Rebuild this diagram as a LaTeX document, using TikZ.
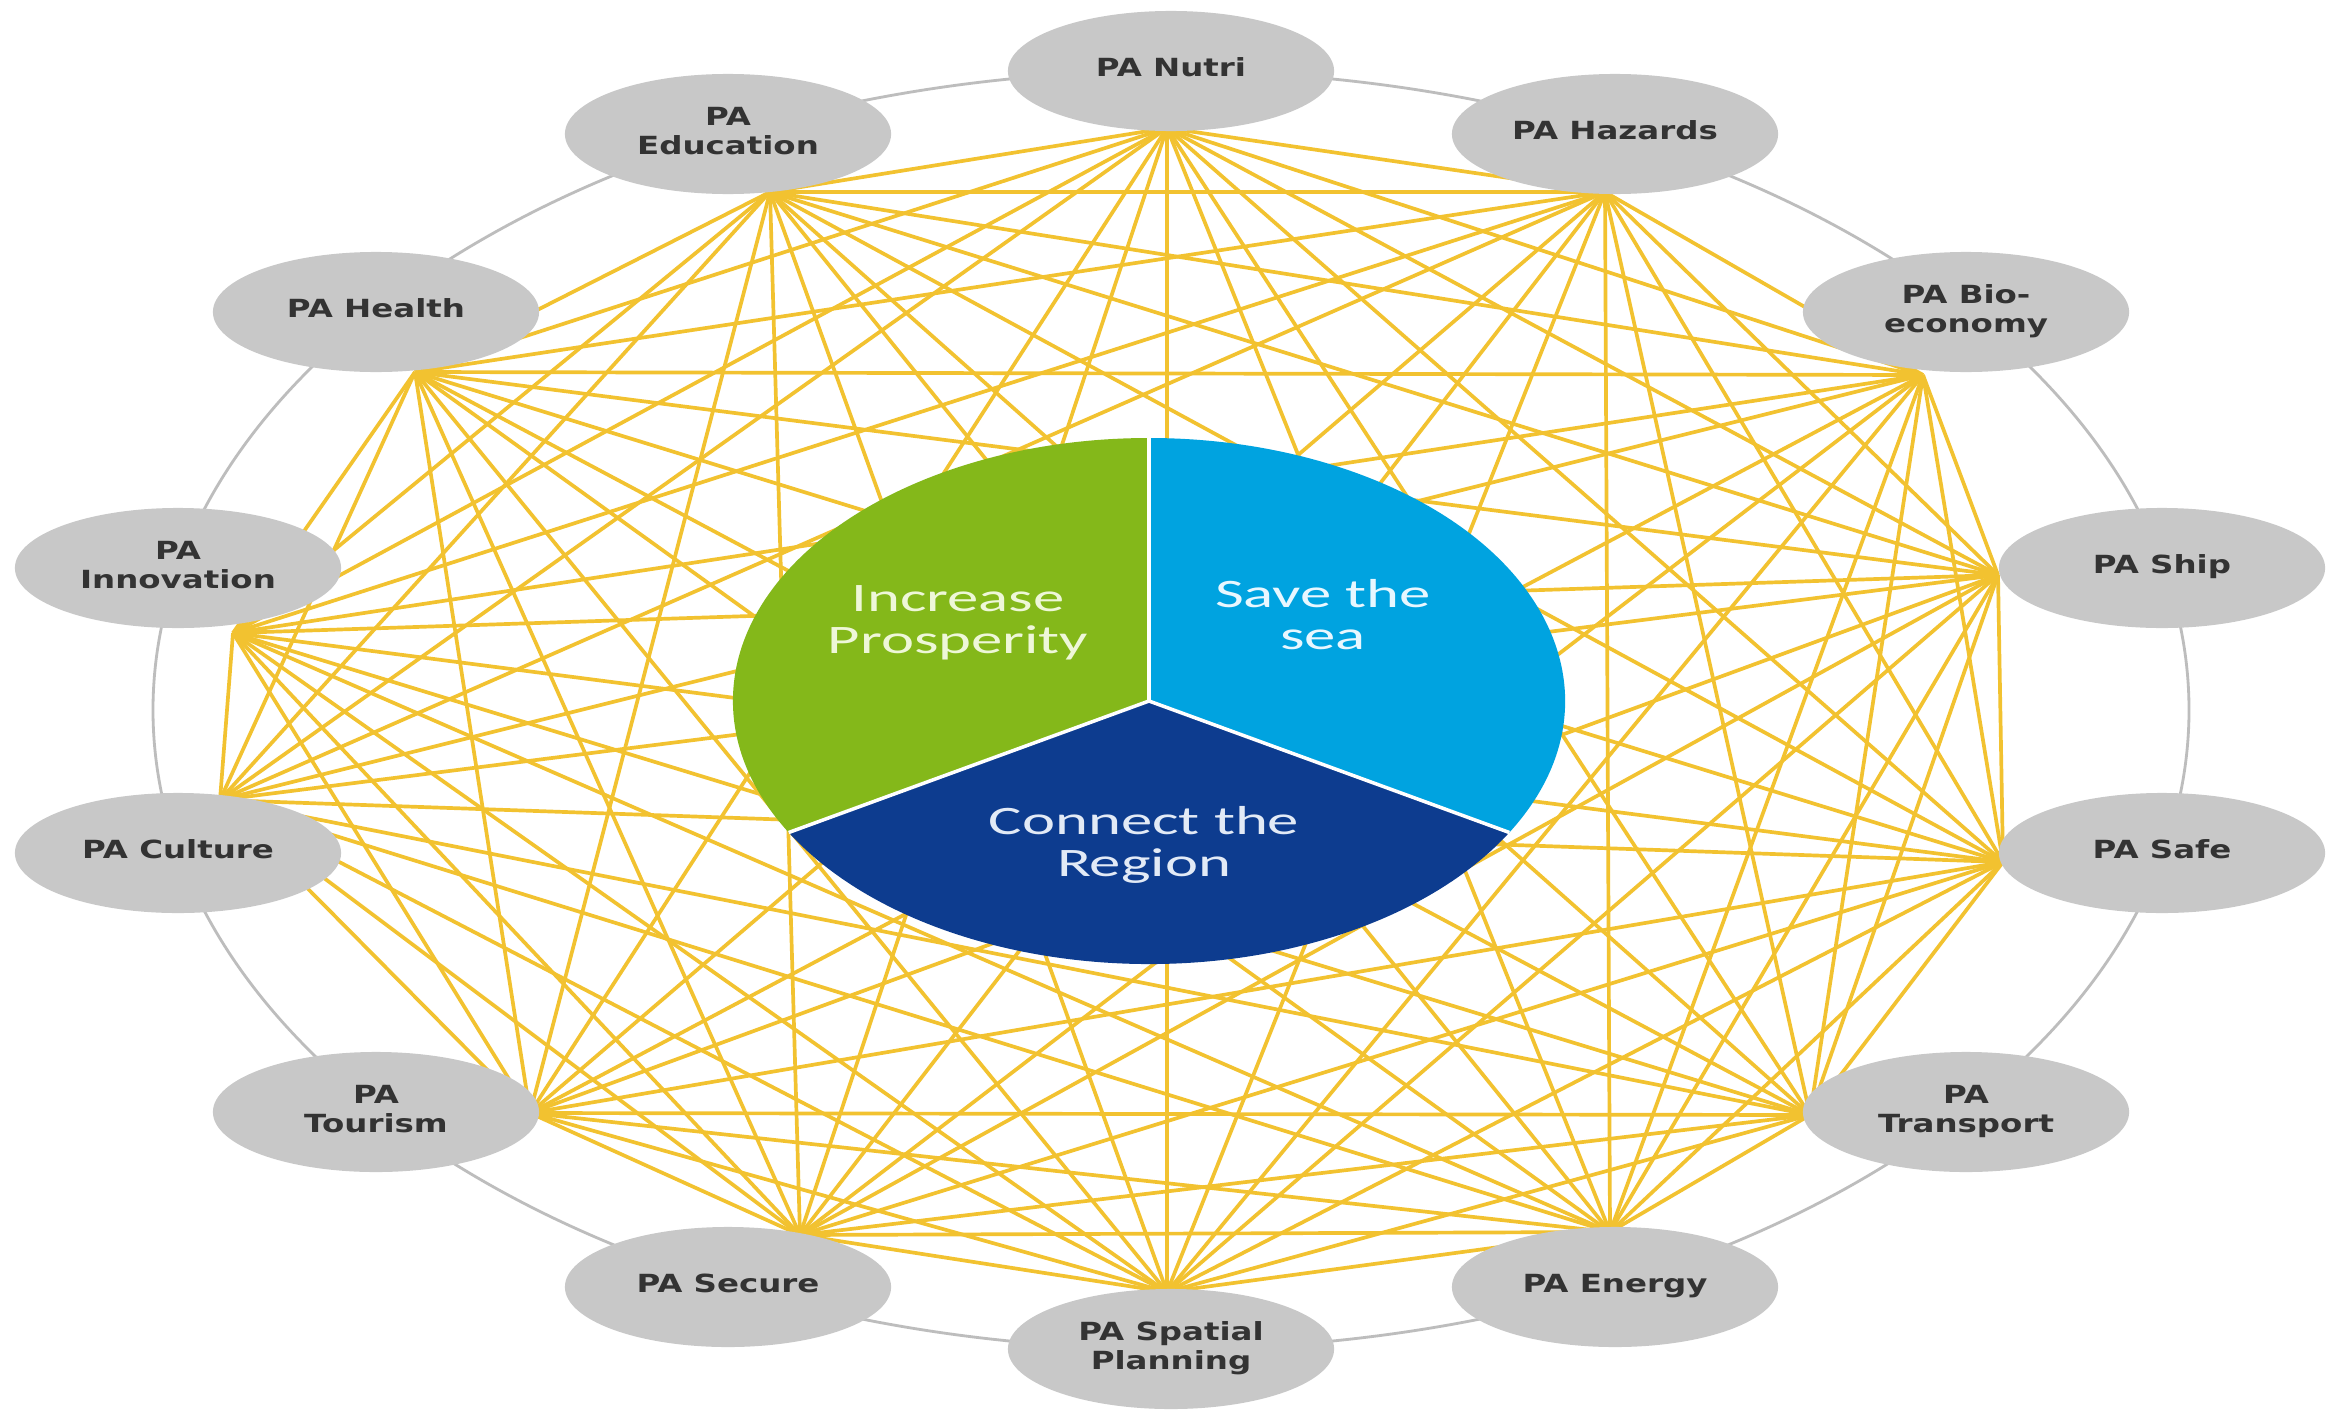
\documentclass[tikz,border=0pt]{standalone}
\usepackage{fontspec}
\setmainfont{DejaVu Sans}
\newfontfamily\carl{Carlito}
\usetikzlibrary{shapes.geometric}
\definecolor{paGray}{HTML}{C8C8C8}
\definecolor{lineGold}{HTML}{F2C230}
\definecolor{ringGray}{HTML}{BDBDBD}
\definecolor{pieGreen}{HTML}{84B81A}
\definecolor{pieLight}{HTML}{00A3E0}
\definecolor{pieDark}{HTML}{0D3C8F}
\definecolor{txtDark}{HTML}{333333}
\definecolor{txtGreen}{HTML}{EEF7D8}
\definecolor{txtLight}{HTML}{E8F7FF}
\definecolor{txtDarkB}{HTML}{E2EAF6}
\newcommand\patext[1]{\scalebox{1.3}[1]{\begin{tabular}{@{}c@{}}#1\end{tabular}}}
\newcommand\pietext[1]{\scalebox{1.55}[1]{\begin{tabular}{@{}c@{}}#1\end{tabular}}}
\begin{document}
\begin{tikzpicture}[x=0.01cm,y=-0.01cm,
  pa/.style={ellipse, fill=paGray, minimum width=3.26cm, minimum height=1.2cm, inner sep=0pt,
    text=txtDark, font=\fontsize{7.1pt}{8.5pt}\selectfont\bfseries},
  link/.style={draw=lineGold, line width=1.05pt},
  ring/.style={draw=ringGray, line width=0.8pt},
  sector/.style={draw=white, line width=1pt},
  pielabel/.style={font=\carl\fontsize{11.5pt}{11.9pt}\selectfont, inner sep=0pt}]
\fill[white] (0,0) rectangle (2330,1412);
\useasboundingbox (0,0) rectangle (2330,1412);
% ring
\draw[ring] (1171,710) ellipse [x radius=1018, y radius=639];
% hubs
\coordinate (h1) at (1167,128);
\coordinate (h2) at (1605,192);
\coordinate (h3) at (1923,375);
\coordinate (h4) at (1998,575);
\coordinate (h5) at (2003,862);
\coordinate (h6) at (1810,1115);
\coordinate (h7) at (1610,1232);
\coordinate (h8) at (1167,1292);
\coordinate (h9) at (800,1235);
\coordinate (h10) at (530,1113);
\coordinate (h11) at (220,800);
\coordinate (h12) at (233,633);
\coordinate (h13) at (415,372);
\coordinate (h14) at (770,192);
% links (complete graph)
\foreach \i in {1,...,13}{
  \pgfmathtruncatemacro\k{\i+1}
  \foreach \j in {\k,...,14}{
    \draw[link] (h\i) -- (h\j);
  }
}
% pie
\begin{scope}[shift={(1149,701)}, xscale=1.582, yscale=-1]
  \fill[pieGreen] (0,0) -- (90:263) arc[start angle=90, end angle=210, radius=263] -- cycle;
  \fill[pieDark] (0,0) -- (210:263) arc[start angle=210, end angle=330, radius=263] -- cycle;
  \fill[pieLight] (0,0) -- (330:263) arc[start angle=330, end angle=450, radius=263] -- cycle;
  \draw[sector] (0,0) -- (90:263);
  \draw[sector] (0,0) -- (210:263);
  \draw[sector] (0,0) -- (330:263);
\end{scope}
\node[pielabel, text=txtGreen] (p1) at (958,624) {\pietext{Increase\\Prosperity}};
\node[pielabel, text=txtLight] (p2) at (1323,620) {\pietext{Save the\\sea}};
\node[pielabel, text=txtDarkB] (p3) at (1144,847) {\pietext{Connect the\\Region}};
% PA nodes
\node[pa] (n1) at (1171,71) {\patext{PA Nutri}};
\node[pa] (n2) at (1615,134) {\patext{PA Hazards}};
\node[pa] (n3) at (1966,312) {\patext{PA Bio-\\economy}};
\node[pa] (n4) at (2162,568) {\patext{PA Ship}};
\node[pa] (n5) at (2162,853) {\patext{PA Safe}};
\node[pa] (n6) at (1966,1112) {\patext{PA\\Transport}};
\node[pa] (n7) at (1615,1287) {\patext{PA Energy}};
\node[pa] (n8) at (1171,1349) {\patext{PA Spatial\\Planning}};
\node[pa] (n9) at (728,1287) {\patext{PA Secure}};
\node[pa] (n10) at (376,1112) {\patext{PA\\Tourism}};
\node[pa] (n11) at (178,853) {\patext{PA Culture}};
\node[pa] (n12) at (178,568) {\patext{PA\\Innovation}};
\node[pa] (n13) at (376,312) {\patext{PA Health}};
\node[pa] (n14) at (728,134) {\patext{PA\\Education}};
\end{tikzpicture}
\end{document}
